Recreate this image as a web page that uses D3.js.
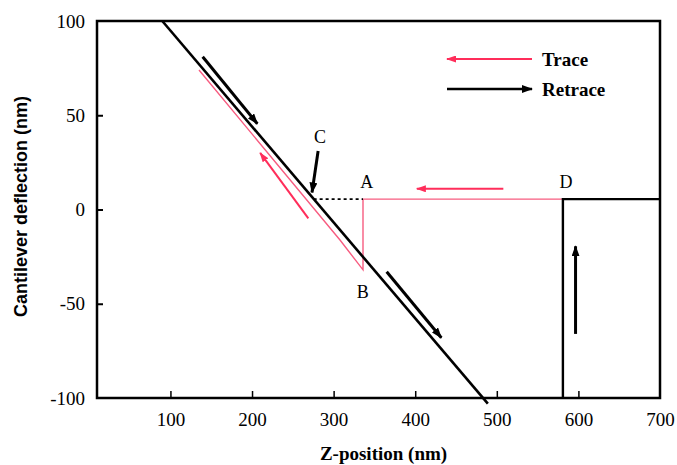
<!DOCTYPE html>
<html><head><meta charset="utf-8">
<script src="https://cdn.jsdelivr.net/npm/d3@7"></script>
<style>body{margin:0;background:#fff}</style>
</head><body>
<svg id="chart" width="677" height="465"></svg>
<script>
// ---- data ----
const xTicks = [100, 200, 300, 400, 500, 600, 700];
const yTicks = [-100, -50, 0, 50, 100];
const retraceDiag = [[90, 100], [489, -103]];
const retraceStep = [[581, -100], [581, 5.5], [700, 5.5]];
const traceLine = [[581, 5.5], [336, 5.5], [336, -32], [307.8, -16.2], [135, 74]];
const dottedLine = [[275.5, 5.5], [336, 5.5]];
const blackArrows = [
  [[139.5, 81], [206.5, 45.5]],
  [[365, -33], [432, -68]],
  [[596.5, -66], [596.5, -19.5]],
  [[281, 31], [273.5, 9]]
];
const redArrows = [
  [[269, -4.7], [210, 30]],
  [[508, 11], [402, 11]]
];
const pointLabels = [
  {t: "C", x: 283.3, y: 38.5},
  {t: "A", x: 340.5, y: 14.7},
  {t: "B", x: 335.6, y: -43.6},
  {t: "D", x: 584.8, y: 14.7}
];
const legendItems = [{t: "Trace", dir: -1}, {t: "Retrace", dir: 1}];

// ---- chart ----
const svg = d3.select("#chart");
const L = 97, R = 660, T = 21, B = 398;
const x = d3.scaleLinear().domain([10, 700]).range([L, R]);
const y = d3.scaleLinear().domain([-100, 100]).range([B, T]);
const serif = "Liberation Serif";
const sans = "Liberation Sans";

const defs = svg.append("defs");
function marker(id, color, len, wid) {
  defs.append("marker").attr("id", id)
    .attr("markerUnits", "userSpaceOnUse")
    .attr("viewBox", `0 ${-wid/2} ${len} ${wid}`)
    .attr("refX", len - 1).attr("refY", 0)
    .attr("markerWidth", len).attr("markerHeight", wid)
    .attr("orient", "auto")
    .append("path").attr("d", `M0,${-wid/2}L${len},0L0,${wid/2}Z`).attr("fill", color);
}
marker("hb", "#000", 11, 8);
marker("hr", "#ff2d5a", 10, 7);

// axes
const xAxis = d3.axisBottom(x).tickValues(xTicks).tickSizeInner(-7).tickSizeOuter(0).tickPadding(15).tickFormat(d => String(d));
const gx = svg.append("g").attr("transform", `translate(0,${B})`).call(xAxis);
gx.select(".domain").remove();
gx.selectAll(".tick line").attr("stroke", "#000").attr("stroke-width", 1.5).filter(d => d === 700).remove();
gx.selectAll(".tick text").attr("font-family", serif).attr("font-size", 19).attr("fill", "#000");

const yAxis = d3.axisLeft(y).tickValues(yTicks).tickSizeInner(-6).tickSizeOuter(0).tickPadding(12).tickFormat(d => String(d));
const gy = svg.append("g").attr("transform", `translate(${L},0)`).call(yAxis);
gy.select(".domain").remove();
gy.selectAll(".tick line").attr("stroke", "#000").attr("stroke-width", 2).filter(d => d === 100 || d === -100).remove();
gy.selectAll(".tick text").attr("font-family", serif).attr("font-size", 19).attr("fill", "#000");

// frame
svg.append("rect").attr("x", L).attr("y", T).attr("width", R - L).attr("height", B - T)
  .attr("fill", "none").attr("stroke", "#000").attr("stroke-width", 2.5);

const line = d3.line().x(d => x(d[0])).y(d => y(d[1]));

// trace (red)
svg.append("path").attr("d", line(traceLine)).attr("fill", "none")
  .attr("stroke", "#f75c80").attr("stroke-width", 1.4).attr("stroke-linejoin", "miter");

// dotted
svg.append("path").attr("d", line(dottedLine)).attr("fill", "none")
  .attr("stroke", "#000").attr("stroke-width", 1.8).attr("stroke-dasharray", "3,3");

// retrace (black)
svg.append("path").attr("d", line(retraceDiag)).attr("fill", "none")
  .attr("stroke", "#000").attr("stroke-width", 2.6);
svg.append("path").attr("d", line(retraceStep)).attr("fill", "none")
  .attr("stroke", "#000").attr("stroke-width", 2.4);

// arrows
svg.selectAll(".ab").data(blackArrows).join("path").attr("class", "ab")
  .attr("d", d => line(d)).attr("stroke", "#000").attr("stroke-width", 3).attr("fill", "none")
  .attr("marker-end", "url(#hb)");
svg.selectAll(".ar").data(redArrows).join("path").attr("class", "ar")
  .attr("d", d => line(d)).attr("stroke", "#ff2d5a").attr("stroke-width", 2).attr("fill", "none")
  .attr("marker-end", "url(#hr)");

// point labels
svg.selectAll(".pl").data(pointLabels).join("text").attr("class", "pl")
  .attr("x", d => x(d.x)).attr("y", d => y(d.y)).attr("dy", "0.35em")
  .attr("text-anchor", "middle").attr("font-family", serif).attr("font-size", 18).attr("fill", "#000")
  .text(d => d.t);

// legend
const lg = svg.append("g");
legendItems.forEach((it, i) => {
  const yy = 59 + i * 30;
  const x1 = 447, x2 = 532;
  lg.append("line")
    .attr("x1", it.dir < 0 ? x2 : x1).attr("x2", it.dir < 0 ? x1 : x2)
    .attr("y1", yy).attr("y2", yy)
    .attr("stroke", it.dir < 0 ? "#ff2d5a" : "#000").attr("stroke-width", it.dir < 0 ? 2 : 2.5)
    .attr("marker-end", it.dir < 0 ? "url(#hr)" : "url(#hb)");
  lg.append("text").attr("x", 542).attr("y", yy).attr("dy", "0.35em")
    .attr("font-family", serif).attr("font-weight", "bold").attr("font-size", 19).attr("fill", "#000")
    .text(it.t);
});

// axis titles
svg.append("text").attr("x", (L + R) / 2 + 5).attr("y", 453).attr("dy", "0.35em")
  .attr("text-anchor", "middle").attr("font-family", serif).attr("font-weight", "bold").attr("font-size", 19)
  .text("Z-position (nm)");
svg.append("text").attr("transform", `translate(21,${(T + B) / 2 - 3}) rotate(-90)`).attr("dy", "0.35em")
  .attr("text-anchor", "middle").attr("font-family", sans).attr("font-weight", "bold").attr("font-size", 18)
  .text("Cantilever deflection (nm)");
</script>
</body></html>
